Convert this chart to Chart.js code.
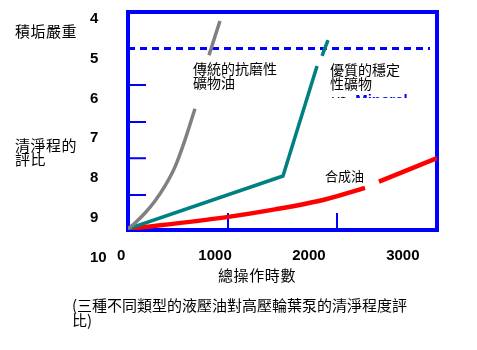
<!DOCTYPE html>
<html lang="zh-Hant">
<head>
<meta charset="utf-8">
<title>液壓油清淨程度評比</title>
<script src="https://cdn.jsdelivr.net/npm/chart.js@4.4.1/dist/chart.umd.min.js"></script>
<style>
  body { margin: 0; background: #fff; }
  #wrap { position: relative; width: 477px; height: 350px; overflow: hidden; }
  #wrap canvas { position: absolute; left: 0; top: 0; }
  .txt {
    position: absolute;
    font-family: "Noto Sans CJK TC", "Noto Sans CJK SC", sans-serif;
    color: #000;
    white-space: nowrap;
  }
  .clip { position: absolute; overflow: hidden; }
  .clip span { font-family: "Liberation Sans", Arial, sans-serif; font-size: 15px; }
</style>
</head>
<body>
<div id="wrap">
  <canvas id="cleanChart" width="477" height="350"></canvas>

  <div class="txt" style="left:15px; top:23px; font-size:15px; line-height:15px; letter-spacing:0.5px;">積垢嚴重</div>
  <div class="txt" style="left:15px; top:138px; font-size:15px; line-height:14px; letter-spacing:0.5px;">清淨程的<br>評比</div>
  <div class="txt" style="left:218px; top:267px; font-size:15px; line-height:15px; letter-spacing:0.6px;">總操作時數</div>
  <div class="txt" style="left:72px; top:298px; font-size:15px; line-height:14.5px;">(三種不同類型的液壓油對高壓輪葉泵的清淨程度評<br>比)</div>

  <div class="txt" style="left:193px; top:61px; font-size:14px; line-height:14px;">傳統的抗磨性<br>礦物油</div>
  <div class="txt" style="left:330px; top:62px; font-size:14px; line-height:14px;">優質的穩定<br>性礦物</div>
  <div class="clip" style="left:332px; top:94px; width:80px; height:4px;">
    <div style="position:absolute; left:0; top:-2px; line-height:15px; white-space:nowrap;">
      <span style="color:#000;">vs.</span> <span style="color:#0000ff; font-weight:bold;">Mineral</span>
    </div>
  </div>
  <div class="txt" style="left:325px; top:169px; font-size:13px; line-height:13px;">合成油</div>
</div>

<script>
const BLUE = "#0000ff";

// axis ranges (hours across, cleanliness rating down)
const HOURS_MAX = 3300;
const RATING_MIN = 3.824;
const RATING_MAX = 9.308;

// the hour labels sit on their own scale, a bit left of the data scale
const HOUR_LABEL_MIN = 72.9;
const HOUR_LABEL_MAX = 3363.7;

const HOUR_TICKS = [0, 1000, 2000, 3000];
const RATING_TICKS = [4, 5, 6, 7, 8, 9, 10];

// conventional anti-wear mineral oil
const MINERAL_HOURS  = [0, 75, 182, 288, 395, 502, 609, 715, 790, 865, 982];
const MINERAL_RATING = [9.28, 9.13, 8.88, 8.58, 8.20, 7.72, 7.04, 6.26, null, 4.91, 4.05];

// premium stabilised mineral oil
const STABLE_HOURS  = [0, 1655, 2019, 2045, 2072, 2136];
const STABLE_RATING = [9.28, 7.95, 5.18, null, 4.93, 4.53];

// synthetic oil
const SYNTH_HOURS  = [0, 1036, 1570, 2104, 2531, 2600, 2680, 3300];
const SYNTH_RATING = [9.28, 8.99, 8.79, 8.54, 8.25, null, 8.09, 7.50];

// heavy-deposit limit
const LIMIT_HOURS  = [0, 3225];
const LIMIT_RATING = [4.74, 4.74];

// short marks inside the frame
const MARK_RATINGS = [5.66, 6.59, 7.50, 8.43];
const MARK_HOURS = [1068, 2232];

function toPoints(hours, rating) {
  return hours.map((h, i) => ({ x: h, y: rating[i] }));
}

const tickFont = { family: "'Liberation Sans', Arial, sans-serif", size: 15, weight: "bold" };

// blue frame + inner tick marks, under the curves
const framePlugin = {
  id: "frame",
  beforeDatasetsDraw(chart) {
    const { ctx, chartArea: a } = chart;
    const xs = chart.scales.x;
    const ys = chart.scales.y;
    ctx.save();
    ctx.strokeStyle = BLUE;
    ctx.lineWidth = 4;
    ctx.strokeRect(a.left, a.top, a.right - a.left, a.bottom - a.top);

    ctx.lineWidth = 2;
    ctx.beginPath();
    MARK_RATINGS.forEach(v => {
      const py = ys.getPixelForValue(v);
      ctx.moveTo(a.left, py);
      ctx.lineTo(a.left + 18, py);
    });
    MARK_HOURS.forEach(v => {
      const px = xs.getPixelForValue(v);
      ctx.moveTo(px, a.bottom);
      ctx.lineTo(px, a.bottom - 17);
    });
    ctx.stroke();
    ctx.restore();
  }
};

new Chart(document.getElementById("cleanChart"), {
  type: "line",
  data: {
    datasets: [
      {
        label: "傳統的抗磨性礦物油",
        data: toPoints(MINERAL_HOURS, MINERAL_RATING),
        borderColor: "#808080",
        borderWidth: 3.5,
        cubicInterpolationMode: "monotone"
      },
      {
        label: "優質的穩定性礦物",
        data: toPoints(STABLE_HOURS, STABLE_RATING),
        borderColor: "#008080",
        borderWidth: 3.5
      },
      {
        label: "合成油",
        data: toPoints(SYNTH_HOURS, SYNTH_RATING),
        borderColor: "#ff0000",
        borderWidth: 4.5,
        cubicInterpolationMode: "monotone"
      },
      {
        label: "積垢嚴重",
        data: toPoints(LIMIT_HOURS, LIMIT_RATING),
        borderColor: BLUE,
        borderWidth: 3,
        borderDash: [7, 5]
      }
    ]
  },
  options: {
    responsive: false,
    animation: false,
    layout: { padding: { left: 90, top: 12, right: 40, bottom: 80 } },
    elements: { point: { radius: 0, hoverRadius: 0 } },
    plugins: {
      legend: { display: false },
      tooltip: { enabled: false }
    },
    scales: {
      x: {
        type: "linear",
        min: 0,
        max: HOURS_MAX,
        display: false
      },
      xt: {
        type: "linear",
        position: "bottom",
        min: HOUR_LABEL_MIN,
        max: HOUR_LABEL_MAX,
        afterBuildTicks: s => { s.ticks = HOUR_TICKS.map(v => ({ value: v })); },
        afterFit: s => { s.height = 40; },
        grid: { display: false, drawTicks: false },
        border: { display: false },
        ticks: {
          autoSkip: false,
          maxRotation: 0,
          padding: 16.5,
          color: "#000",
          font: tickFont,
          callback: v => String(v)
        }
      },
      y: {
        type: "linear",
        position: "left",
        reverse: true,
        min: RATING_MIN,
        max: RATING_MAX,
        afterBuildTicks: s => { s.ticks = RATING_TICKS.map(v => ({ value: v })); },
        afterFit: s => { s.width = 38; },
        grid: { display: false, drawTicks: false },
        border: { display: false },
        ticks: {
          autoSkip: false,
          crossAlign: "far",
          padding: 0,
          color: "#000",
          font: tickFont,
          callback: v => String(v)
        }
      }
    }
  },
  plugins: [framePlugin]
});
</script>
</body>
</html>
